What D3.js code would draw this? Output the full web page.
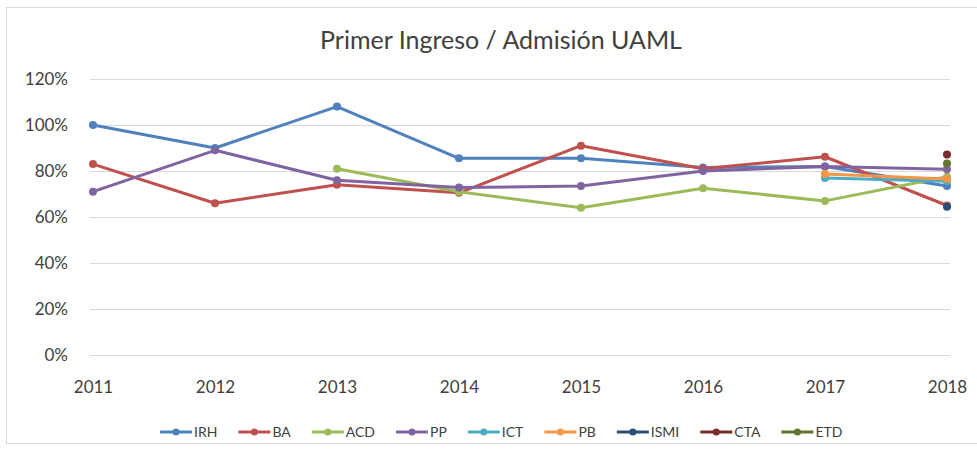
<!DOCTYPE html>
<html>
<head>
<meta charset="utf-8">
<script src="https://cdn.jsdelivr.net/npm/d3@7"></script>
<style>
  body { margin: 0; background: #fff; }
  svg, svg text { font-family: Lato, "Open Sans", sans-serif; }
</style>
</head>
<body>
<svg id="svg" width="977" height="450"></svg>
<script>
// categories and series (fractions of 1)
const years = ['2011', '2012', '2013', '2014', '2015', '2016', '2017', '2018']
const irh  = [1.00, 0.90, 1.08, 0.855, 0.855, 0.815, 0.82, 0.735]
const ba   = [0.83, 0.66, 0.74, 0.705, 0.91, 0.81, 0.862, 0.65]
const acd  = [null, null, 0.81, 0.71, 0.64, 0.725, 0.67, 0.775]
const pp   = [0.71, 0.89, 0.76, 0.728, 0.735, 0.80, 0.82, 0.808]
const ict  = [null, null, null, null, null, null, 0.77, 0.755]
const pb   = [null, null, null, null, null, null, 0.787, 0.765]
const ismi = [null, null, null, null, null, null, null, 0.645]
const cta  = [null, null, null, null, null, null, null, 0.872]
const etd  = [null, null, null, null, null, null, null, 0.833]
const yTicks = [0, 0.2, 0.4, 0.6, 0.8, 1.0, 1.2]

const series = [
  { name: 'IRH', values: irh, color: '#4F81BD' },
  { name: 'BA', values: ba, color: '#C0504D' },
  { name: 'ACD', values: acd, color: '#9BBB59' },
  { name: 'PP', values: pp, color: '#8064A2' },
  { name: 'ICT', values: ict, color: '#4BACC6' },
  { name: 'PB', values: pb, color: '#F79646' },
  { name: 'ISMI', values: ismi, color: '#2C4D75' },
  { name: 'CTA', values: cta, color: '#772C2A' },
  { name: 'ETD', values: etd, color: '#5F7530' }
]

const svg = d3.select('#svg')

// chart frame
svg.append('rect')
  .attr('x', 6.5).attr('y', 7.5)
  .attr('width', 975).attr('height', 436)
  .attr('fill', '#fff')
  .attr('stroke', '#d9d9d9')

const x = d3.scalePoint().domain(years).range([93, 947])
const y = d3.scaleLinear().domain([0, 1.2]).range([355, 79])

// title
svg.append('text')
  .attr('x', 501).attr('y', 49)
  .attr('text-anchor', 'middle')
  .attr('font-size', 25)
  .attr('fill', '#404040')
  .text('Primer Ingreso / Admisión UAML')

// gridlines + y labels
const yAxis = d3.axisLeft(y)
  .tickValues(yTicks)
  .tickFormat(d3.format('.0%'))
  .tickSize(-(947 - 90))
  .tickPadding(22)
svg.append('g')
  .attr('transform', 'translate(90,0)')
  .call(yAxis)
  .attr('font-family', null)
  .call(g => g.select('.domain').remove())
  .call(g => g.selectAll('line').attr('stroke', '#d9d9d9').attr('x2', 860))
  .call(g => g.selectAll('text').attr('font-size', 17).attr('fill', '#404040'))

// x labels
const xAxis = d3.axisBottom(x).tickSize(0).tickPadding(26)
svg.append('g')
  .attr('transform', 'translate(0,355)')
  .call(xAxis)
  .attr('font-family', null)
  .call(g => g.select('.domain').remove())
  .call(g => g.selectAll('text').attr('font-size', 17).attr('fill', '#404040'))

// lines and markers
const line = d3.line()
  .defined(d => d.v != null)
  .x(d => x(d.year))
  .y(d => y(d.v))

series.forEach(s => {
  const pts = s.values.map((v, i) => ({ year: years[i], v: v }))
  svg.append('path')
    .datum(pts)
    .attr('fill', 'none')
    .attr('stroke', s.color)
    .attr('stroke-width', 3)
    .attr('stroke-linejoin', 'round')
    .attr('d', line)
  svg.selectAll(null)
    .data(pts.filter(d => d.v != null))
    .enter()
    .append('circle')
    .attr('cx', d => x(d.year))
    .attr('cy', d => y(d.v))
    .attr('r', 4)
    .attr('fill', s.color)
})

// legend
let lx = 160
const legend = svg.append('g').attr('transform', 'translate(0,432)')
series.forEach(s => {
  legend.append('line')
    .attr('x1', lx).attr('x2', lx + 32)
    .attr('stroke', s.color).attr('stroke-width', 3)
  legend.append('circle')
    .attr('cx', lx + 16).attr('r', 3.5).attr('fill', s.color)
  const t = legend.append('text')
    .attr('x', lx + 34).attr('dy', '0.35em')
    .attr('font-size', 14).attr('fill', '#404040')
    .text(s.name)
  lx += 34 + t.node().getComputedTextLength() + 21
})
</script>
</body>
</html>
